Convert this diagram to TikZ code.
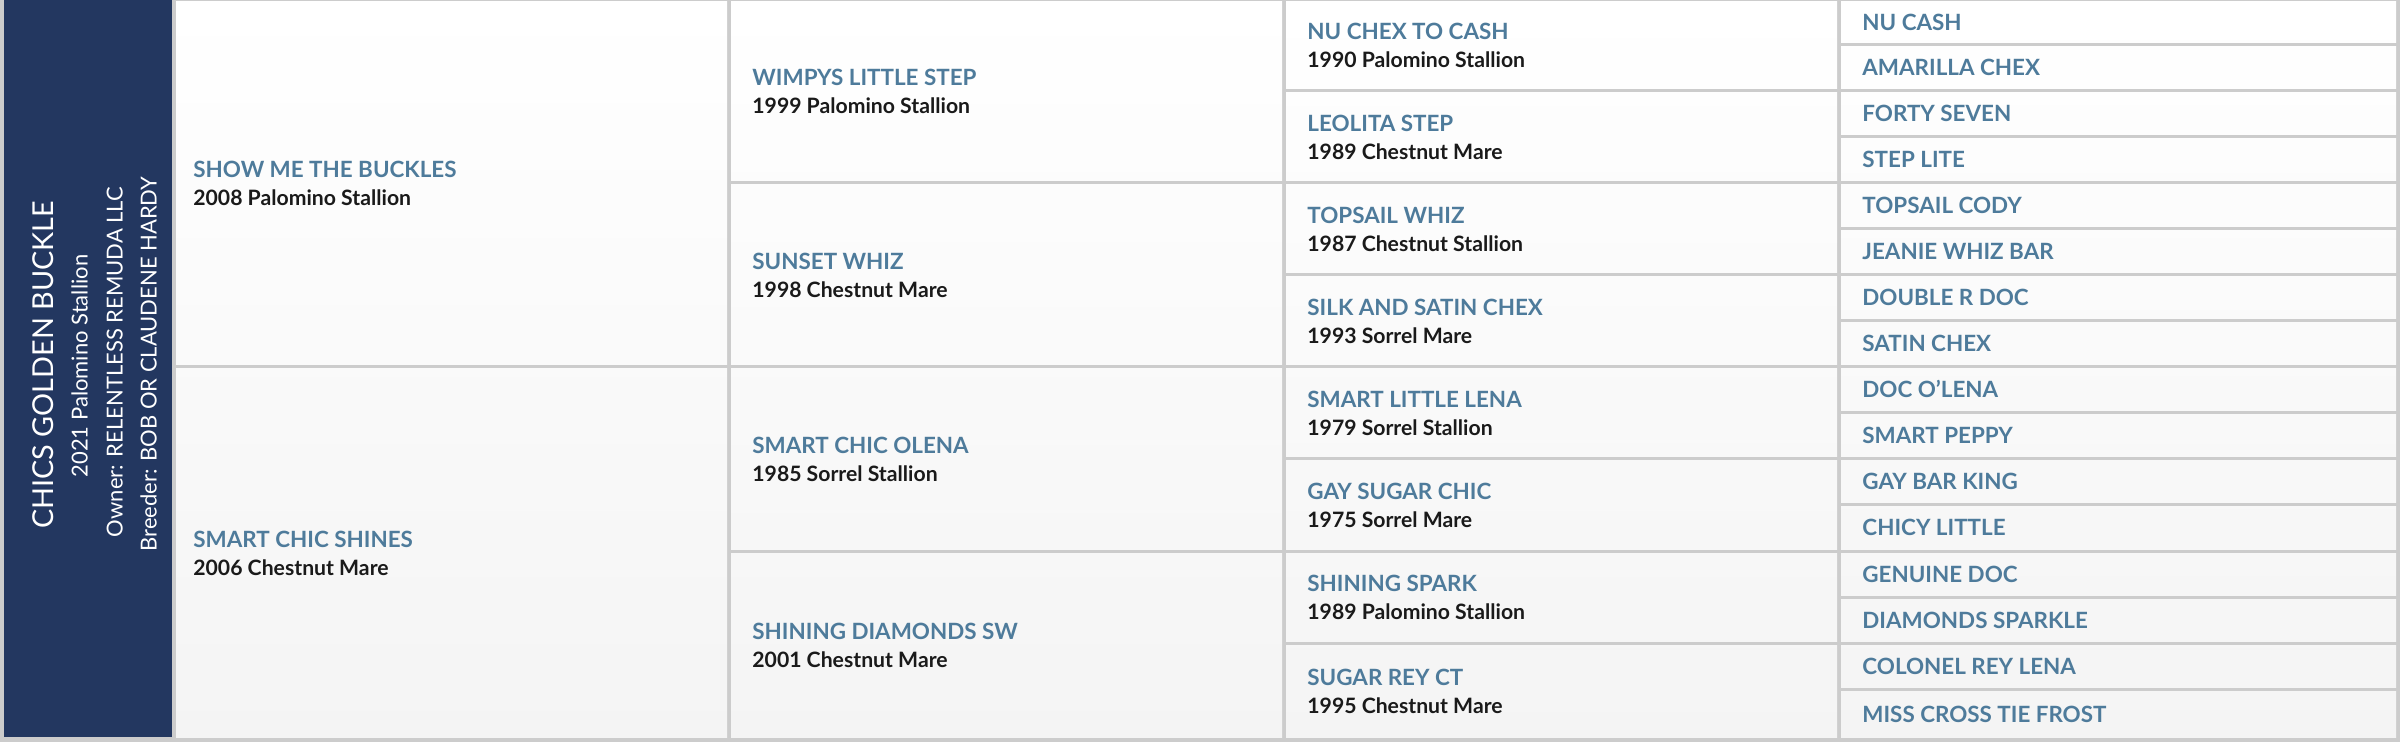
\documentclass[tikz,border=0pt]{standalone}
\usepackage{fontspec}
\setmainfont{Lato}
\definecolor{rulegrey}{HTML}{CCCCCC}
\definecolor{navy}{HTML}{233760}
\definecolor{nameblue}{HTML}{4E7B9B}
\definecolor{yearblack}{HTML}{1A1A1A}
\definecolor{cellgrey}{HTML}{F4F4F4}
\tikzset{
  horse/.style={font=\fontsize{11.2}{12}\selectfont\bfseries, text=nameblue, inner sep=0pt, anchor=base west},
  yeartext/.style={font=\fontsize{10.6}{11}\selectfont\bfseries, text=yearblack, inner sep=0pt, anchor=base west},
  subjtitle/.style={font=\fontsize{14.4}{15}\selectfont, text=white, inner sep=0pt, rotate=90, anchor=base},
  subjline/.style={font=\fontsize{11}{12}\selectfont, text=white, inner sep=0pt, rotate=90, anchor=base},
}
% #1 x-left, #2 x-right, #3 first row, #4 span
\newcommand\pedcell[4]{%
  \pgfmathsetmacro\ya{#3==0 ? 1.5 : 1+46*#3}%
  \pgfmathsetmacro\yb{(#3+#4)==16 ? 737 : 43+46*(#3+#4-1)}%
  \pgfmathtruncatemacro\pa{\ya/7.42}%
  \pgfmathtruncatemacro\pb{\yb/7.42}%
  \shade[top color=cellgrey!\pa!white, bottom color=cellgrey!\pb!white] (#1,\ya) rectangle (#2,\yb);%
  \pgfmathsetmacro\ym{(\ya+\yb)/2}%
}
\begin{document}
\begin{tikzpicture}[x=0.5pt,y=-0.5pt]
\useasboundingbox (0,0) rectangle (2402,742);
\fill[white] (0,0) rectangle (2402,742);
\fill[rulegrey] (0,0) rectangle (2400,742);
\fill[navy] (4,0) rectangle (172,737);

% subject
\node[subjtitle] (subj) at (53.3,365) {CHICS GOLDEN BUCKLE};
\node[subjline] (subjyear) at (87.7,366) {2021 Palomino Stallion};
\node[subjline] (owner) at (122.7,362) {Owner: RELENTLESS REMUDA LLC};
\node[subjline] (breeder) at (156.7,364) {Breeder: BOB OR CLAUDENE HARDY};

% generation 1
\foreach \r/\nm/\yr [count=\i] in {
  0/SHOW ME THE BUCKLES/2008 Palomino Stallion,
  8/SMART CHIC SHINES/2006 Chestnut Mare}{
  \pedcell{176}{727}{\r}{8}
  \node[horse] (ga\i) at (193,\ym-5.25) {\nm};
  \node[yeartext] (ga\i y) at (193,\ym+22.75) {\yr};
}

% generation 2
\foreach \r/\nm/\yr [count=\i] in {
  0/WIMPYS LITTLE STEP/1999 Palomino Stallion,
  4/SUNSET WHIZ/1998 Chestnut Mare,
  8/SMART CHIC OLENA/1985 Sorrel Stallion,
  12/SHINING DIAMONDS SW/2001 Chestnut Mare}{
  \pedcell{731}{1282}{\r}{4}
  \node[horse] (gb\i) at (752,\ym-5.25) {\nm};
  \node[yeartext] (gb\i y) at (752,\ym+22.75) {\yr};
}

% generation 3
\foreach \r/\nm/\yr [count=\i] in {
  0/NU CHEX TO CASH/1990 Palomino Stallion,
  2/LEOLITA STEP/1989 Chestnut Mare,
  4/TOPSAIL WHIZ/1987 Chestnut Stallion,
  6/SILK AND SATIN CHEX/1993 Sorrel Mare,
  8/SMART LITTLE LENA/1979 Sorrel Stallion,
  10/GAY SUGAR CHIC/1975 Sorrel Mare,
  12/SHINING SPARK/1989 Palomino Stallion,
  14/SUGAR REY CT/1995 Chestnut Mare}{
  \pedcell{1286}{1837}{\r}{2}
  \node[horse] (gc\i) at (1307,\ym-5.25) {\nm};
  \node[yeartext] (gc\i y) at (1307,\ym+22.75) {\yr};
}

% generation 4
\foreach \nm [count=\i from 0] in {
  NU CASH, AMARILLA CHEX, FORTY SEVEN, STEP LITE,
  TOPSAIL CODY, JEANIE WHIZ BAR, DOUBLE R DOC, SATIN CHEX,
  DOC O'LENA, SMART PEPPY, GAY BAR KING, CHICY LITTLE,
  GENUINE DOC, DIAMONDS SPARKLE, COLONEL REY LENA, MISS CROSS TIE FROST}{
  \pedcell{1841}{2396}{\i}{1}
  \node[horse] (gd\i) at (1862,\ym+8.0) {\nm};
}
\end{tikzpicture}
\end{document}
